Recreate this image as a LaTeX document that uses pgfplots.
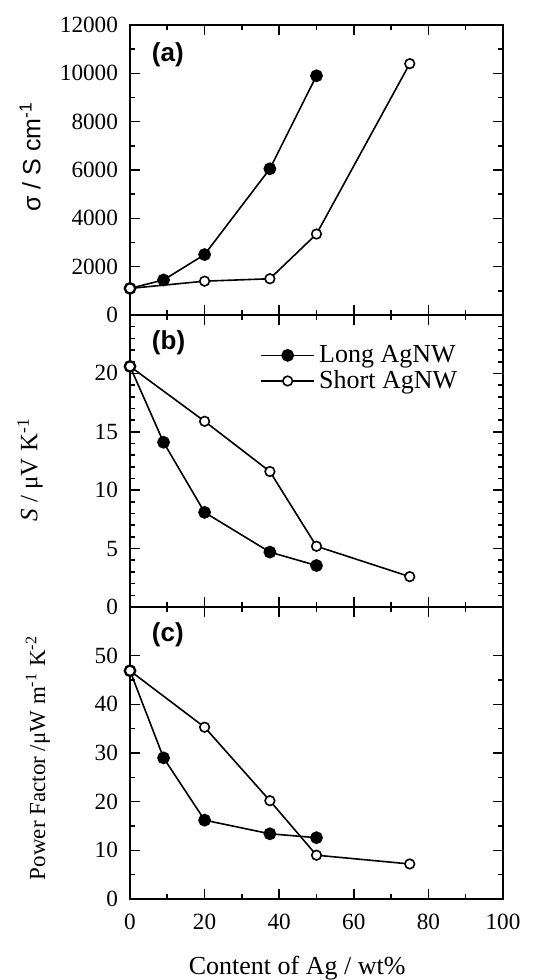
\documentclass[border=0pt]{standalone}
\usepackage{fontspec}
\setmainfont{Liberation Serif}
\setsansfont{Liberation Sans}
\usepackage{pgfplots}
\pgfplotsset{compat=1.18}

\pgfplotsset{
  panel/.style={
    scale only axis, width=186.5pt,
    xmin=0, xmax=100, xtick={0,20,...,100}, minor x tick num=1,
    tick align=inside, xtick pos=both, ytick pos=both,
    axis line style={line width=1pt},
    major tick length=5pt, minor tick length=2.5pt,
    every tick/.append style={line width=0.8pt, black},
    tick label style={font=\rmfamily\fontsize{11.6}{13}\selectfont},
    xticklabel style={yshift=-4pt},
    yticklabel style={xshift=-2.5pt},
    /pgf/number format/assume math mode=true,
    /pgf/number format/1000 sep={},
    scaled y ticks=false,
    clip=false,
    ylabel style={anchor=center},
  },
  long/.style={black, line width=0.8pt, mark=*, mark size=2.8pt,
    mark options={fill=black, solid}},
  short/.style={black, line width=0.8pt, mark=*, mark size=2.4pt,
    mark options={fill=white, solid}},
}

\begin{document}
\begin{tikzpicture}

% (a) conductivity
\begin{axis}[panel, at={(0,292pt)}, anchor=south west, height=145pt,
  ymin=0, ymax=12000, ytick={0,2000,...,12000}, minor y tick num=1,
  xticklabels={},
  ylabel={\sffamily σ / S cm\textsuperscript{-1}},
  ylabel style={at={(axis description cs:-0.268,0.545)}, font=\fontsize{12.5}{14}\selectfont},
]
\addplot[long] coordinates {(0,1100)(9,1450)(20,2500)(37.5,6050)(50,9900)};
\addplot[short] coordinates {(0,1100)(20,1400)(37.5,1500)(50,3350)(75,10400)};
\node[anchor=west, font=\sffamily\bfseries\fontsize{13}{15}\selectfont] at (rel axis cs:0.04,0.897) {(a)};
\end{axis}

% (b) Seebeck
\begin{axis}[panel, at={(0,146pt)}, anchor=south west, height=146pt,
  ymin=0, ymax=25, ytick={0,5,...,20}, minor ytick={1,2,...,24},
  xticklabels={},
  ylabel={\textit{S} / μV K\textsuperscript{-1}},
  ylabel style={at={(axis description cs:-0.268,0.47)}, font=\fontsize{12.5}{14}\selectfont},
  legend style={draw=none, fill=none, at={(rel axis cs:0.905,0.925)}, anchor=north east,
    font=\fontsize{13}{14}\selectfont, row sep=-1.5pt},
  legend cell align=left,
  legend image code/.code={\draw[mark repeat=2, mark phase=2] plot coordinates {(0cm,0cm)(0.47cm,0cm)(0.94cm,0cm)};},
]
\addplot[long] coordinates {(0,20.6)(9,14.1)(20,8.1)(37.5,4.7)(50,3.55)};
\addlegendentry{Long AgNW}
\addplot[short] coordinates {(0,20.6)(20,15.9)(37.5,11.6)(50,5.2)(75,2.6)};
\addlegendentry{Short AgNW}
\node[anchor=west, font=\sffamily\bfseries\fontsize{13}{15}\selectfont] at (rel axis cs:0.04,0.904) {(b)};
\end{axis}

% (c) power factor
\begin{axis}[panel, at={(0,0)}, anchor=south west, height=146pt,
  ymin=0, ymax=60, ytick={0,10,...,50}, minor y tick num=1,
  ylabel={Power Factor /μW m\textsuperscript{-1} K\textsuperscript{-2}},
  ylabel style={at={(axis description cs:-0.247,0.483)}, font=\fontsize{11.5}{13}\selectfont},
  xlabel={Content of Ag / wt\%},
  xlabel style={at={(axis description cs:0.448,-0.236)}, anchor=center, font=\fontsize{13}{15}\selectfont},
]
\addplot[long] coordinates {(0,46.9)(9,29.0)(20,16.2)(37.5,13.4)(50,12.6)};
\addplot[short] coordinates {(0,46.9)(20,35.3)(37.5,20.2)(50,9.0)(75,7.2)};
\node[anchor=west, font=\sffamily\bfseries\fontsize{13}{15}\selectfont] at (rel axis cs:0.04,0.904) {(c)};
\end{axis}

\pgfresetboundingbox
\path (-65pt,-40.5pt) rectangle (206.5pt,449.5pt);
\end{tikzpicture}
\end{document}
